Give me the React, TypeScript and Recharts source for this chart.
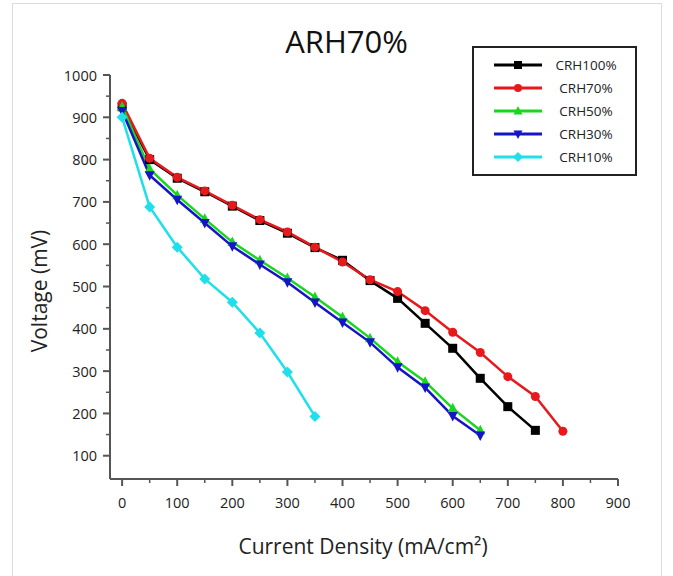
import { LineChart, Line, XAxis, YAxis, Legend } from "recharts";

// current density steps (mA/cm2)
const currentDensity = [0, 50, 100, 150, 200, 250, 300, 350, 400, 450, 500, 550, 600, 650, 700, 750, 800];

// voltage (mV) per cathode RH
const crh100 = [925, 800, 756, 724, 690, 656, 626, 592, 562, 514, 472, 413, 354, 283, 216, 160];
const crh70 = [933, 803, 758, 726, 692, 658, 629, 593, 558, 516, 488, 443, 392, 344, 287, 240, 158];
const crh50 = [925, 778, 716, 660, 605, 562, 520, 475, 428, 378, 322, 275, 212, 160];
const crh30 = [915, 763, 705, 650, 595, 552, 510, 462, 415, 368, 309, 261, 194, 148];
const crh10 = [900, 688, 593, 518, 463, 390, 298, 193];

const xTicks = [0, 50, 100, 150, 200, 250, 300, 350, 400, 450, 500, 550, 600, 650, 700, 750, 800, 850, 900];
const yTicks = [100, 150, 200, 250, 300, 350, 400, 450, 500, 550, 600, 650, 700, 750, 800, 850, 900, 950, 1000];

const data = currentDensity.map((cd, i) => ({
  cd,
  crh100: crh100[i],
  crh70: crh70[i],
  crh50: crh50[i],
  crh30: crh30[i],
  crh10: crh10[i],
}));

const FONT = "'Open Sans', 'Noto Sans', sans-serif";

const series = [
  { key: "crh100", name: "CRH100%", color: "#000000", shape: "square" },
  { key: "crh70", name: "CRH70%", color: "#e8191c", shape: "circle" },
  { key: "crh50", name: "CRH50%", color: "#19d61e", shape: "up" },
  { key: "crh30", name: "CRH30%", color: "#1515c8", shape: "down" },
  { key: "crh10", name: "CRH10%", color: "#1fe0ea", shape: "diamond" },
];

function Marker({ cx, cy, shape, color, r = 4.5 }: any) {
  if (cx == null || cy == null) return null;
  if (shape === "square") return <rect x={cx - r} y={cy - r} width={r * 2} height={r * 2} fill={color} />;
  if (shape === "circle") return <circle cx={cx} cy={cy} r={r} fill={color} />;
  if (shape === "up")
    return <polygon points={`${cx},${cy - r - 1} ${cx + r + 0.5},${cy + r - 0.5} ${cx - r - 0.5},${cy + r - 0.5}`} fill={color} />;
  if (shape === "down")
    return <polygon points={`${cx},${cy + r + 1} ${cx + r + 0.5},${cy - r + 0.5} ${cx - r - 0.5},${cy - r + 0.5}`} fill={color} />;
  return <polygon points={`${cx},${cy - r - 1} ${cx + r + 1},${cy} ${cx},${cy + r + 1} ${cx - r - 1},${cy}`} fill={color} />;
}

function XTick({ x, y, payload }: any) {
  const v = payload.value;
  const major = v % 100 === 0;
  return (
    <g>
      <line x1={x} x2={x} y1={y} y2={y + (major ? 7 : 4)} stroke="#555" strokeWidth={major ? 2 : 1.5} />
      {major && (
        <text x={x} y={y + 23} textAnchor="middle" dominantBaseline="central" fontSize={14.5} fontFamily={FONT} fill="#222">
          {v}
        </text>
      )}
    </g>
  );
}

function YTick({ x, y, payload }: any) {
  const v = payload.value;
  const major = v % 100 === 0;
  return (
    <g>
      <line x1={x} x2={x - (major ? 7 : 4)} y1={y} y2={y} stroke="#555" strokeWidth={major ? 2 : 1.5} />
      {major && (
        <text x={x - 13} y={y} textAnchor="end" dominantBaseline="central" fontSize={14.5} fontFamily={FONT} fill="#222">
          {v}
        </text>
      )}
    </g>
  );
}

function LegendBox() {
  return (
    <div style={{ border: "2px solid #222", width: 165, height: 130, background: "#fff", boxSizing: "border-box", paddingTop: 5 }}>
      {series.map((s) => (
        <div key={s.key} style={{ height: 23, display: "flex", alignItems: "center" }}>
          <svg width={62} height={14} style={{ marginLeft: 18 }}>
            <line x1={2} x2={50} y1={7} y2={7} stroke={s.color} strokeWidth={3} />
            <Marker cx={26} cy={7} shape={s.shape} color={s.color} r={4} />
          </svg>
          <span style={{ width: 64, textAlign: "center", fontFamily: FONT, fontSize: 13.5, color: "#222" }}>{s.name}</span>
        </div>
      ))}
    </div>
  );
}

export default function App() {
  return (
    <div style={{ position: "absolute", left: 0, top: 0, width: 673, height: 576, background: "#fff", overflow: "hidden" }}>
      <div style={{ position: "absolute", left: 12, top: 3, width: 648, height: 600, border: "1px solid #dcdcdc" }} />
      <div
        style={{
          position: "absolute",
          left: 0,
          width: 673,
          top: 21,
          textAlign: "center",
          paddingLeft: 20,
          boxSizing: "border-box",
          fontFamily: FONT,
          fontSize: 31,
          color: "#111",
          lineHeight: "40px",
        }}
      >
        ARH70%
      </div>
      <div style={{ position: "absolute", left: 0, top: 0 }}>
        <LineChart width={673} height={576} data={data} margin={{ top: 75, right: 55, bottom: 67, left: 50 }}>
          <XAxis
            dataKey="cd"
            type="number"
            domain={[-22, 900]}
            ticks={xTicks}
            interval={0}
            height={30}
            tickSize={0}
            tickMargin={0}
            tick={<XTick />}
            axisLine={{ stroke: "#555", strokeWidth: 2 }}
            label={{
              content: ({ viewBox }: any) => (
                <text x={viewBox.x + 253} y={viewBox.y + 67} textAnchor="middle" dominantBaseline="central" fontSize={21} fontFamily={FONT} fill="#222">
                  Current Density (mA/cm²)
                </text>
              ),
            }}
          />
          <YAxis
            type="number"
            domain={[45, 1000]}
            ticks={yTicks}
            interval={0}
            width={60}
            tickSize={0}
            tickMargin={0}
            tick={<YTick />}
            axisLine={{ stroke: "#555", strokeWidth: 2 }}
            label={{
              content: ({ viewBox }: any) => (
                <text
                  x={39}
                  y={viewBox.y + viewBox.height / 2 + 14}
                  textAnchor="middle"
                  dominantBaseline="central"
                  fontSize={21}
                  fontFamily={FONT}
                  fill="#222"
                  transform={`rotate(-90 39 ${viewBox.y + viewBox.height / 2 + 14})`}
                >
                  Voltage (mV)
                </text>
              ),
            }}
          />
          <Legend
            layout="vertical"
            align="center"
            verticalAlign="middle"
            wrapperStyle={{ left: 472, top: 46, width: 165, height: 130 }}
            content={() => <LegendBox />}
          />
          {series.map((s) => (
            <Line
              key={s.key}
              dataKey={s.key}
              name={s.name}
              stroke={s.color}
              strokeWidth={2.5}
              isAnimationActive={false}
              dot={(p: any) => <Marker key={`${s.key}-${p.index}`} cx={p.cx} cy={p.cy} shape={s.shape} color={s.color} />}
              activeDot={false}
            />
          ))}
        </LineChart>
      </div>
    </div>
  );
}
